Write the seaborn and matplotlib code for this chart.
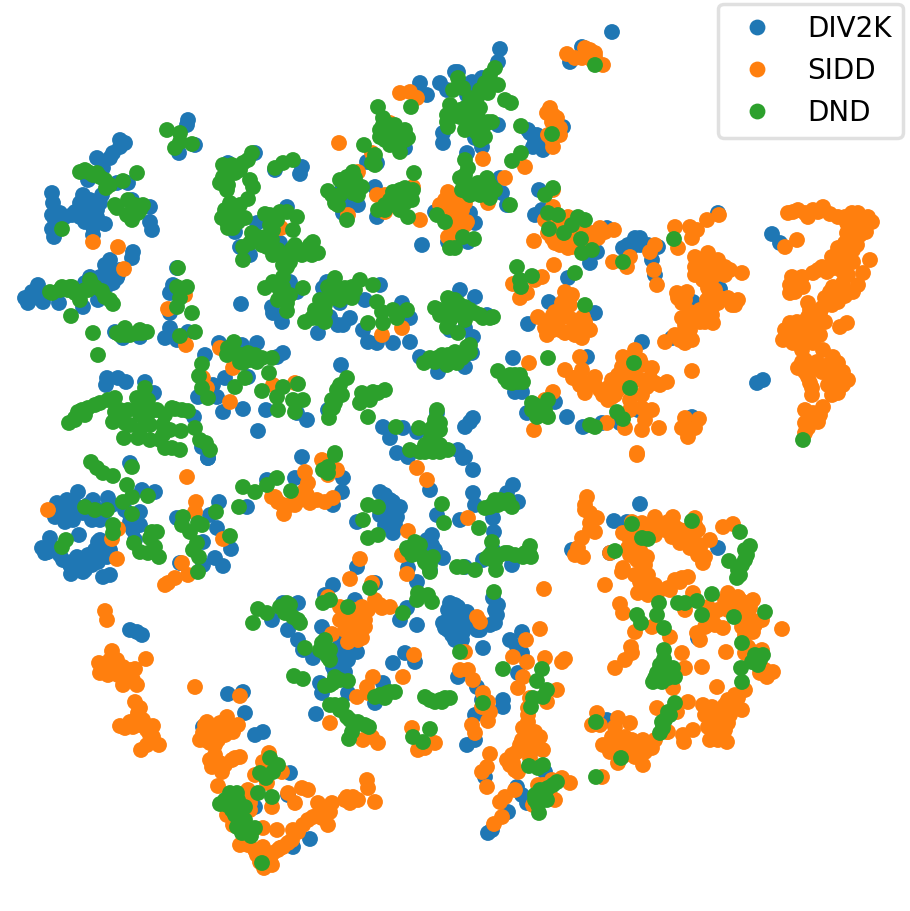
import pandas as pd
import matplotlib
matplotlib.use('Agg')
import matplotlib.pyplot as plt
import seaborn as sns

# t-SNE embedding, as (x, y) per dataset
div2k = [
    (125,143),(113,153),(120,147),(97,158),(103,168),(52,193),(53,203),(55,213),(65,217),(52,229),(54,237),(58,227),
    (83,195),(80,203),(80,217),(88,210),(97,210),(102,195),(100,203),(105,224),(93,227),(93,235),
    (128,183),(117,183),(88,180),(132,200),(150,207),(150,222),(152,230),
    (133,252),(132,258),(110,260),(107,273),(113,283),(90,277),(100,277),(38,285),(32,292),(28,303),(43,302),(59,303),(83,307),(98,300),(117,278),(37,295),
    (188,120),(187,125),(195,145),(179,153),(177,268),(173,285),(170,293),(170,313),(241,304),
    (170,328),(165,338),(177,340),(188,332),(115,332),(123,338),(140,337),
    (107,378),(106,385),(118,378),(126,382),(145,382),(154,393),
    (198,397),(213,385),(217,397),(223,412),(243,409),(225,378),(205,355),(219,343),(242,345),(257,343),(283,353),(277,357),(248,377),
    (266,410),(258,431),(307,420),(297,413),(328,410),(194,417),(202,447),(208,458),(341,365),
    (228,163),(255,153),(302,167),(300,174),(275,170),(287,207),(257,223),(235,232),(240,247),(250,255),(280,243),(290,282),(297,292),(272,307),(282,322),(273,313),
    (327,282),(323,288),(340,303),(365,300),(380,285),(318,333),(330,317),(338,325),(343,325),(350,318),(363,330),(368,342),(377,343),(393,343),(410,342),(420,357),(438,372),(402,303),(410,318),(450,330),
    (342,190),(347,205),(358,205),(343,213),(375,187),(377,217),(367,162),(377,163),(422,245),(435,212),(448,242),
    (405,148),(420,83),(427,95),(440,83),(447,90),(443,143),(443,133),(455,72),
    (383,427),(390,438),(403,428),(417,432),(397,453),(408,457),(437,413),
    (612,32),(500,49),(498,62),(582,47),(570,62),(458,72),(472,82),(467,95),(482,78),(498,125),(530,133),(533,147),(543,150),(563,127),(467,153),(482,147),(475,138),(500,178),(502,193),(507,205),(539,190),(535,215),(542,210),(470,213),(475,223),(468,242),
    (607,228),(623,248),(640,238),(632,247),(658,247),(652,260),(655,275),(590,263),(597,252),(718,213),(772,234),(780,243),(720,289),(693,302),(549,302),(568,278),(595,313),(528,324),(642,342),(672,338),(513,358),(587,357),(515,392),(522,392),(555,402),(527,413),(567,417),(583,427),(602,423),(620,423),(638,410),(692,417),(763,380),(757,383),(473,418),(465,427),(470,422),(465,328),(473,337),(465,367),(472,353),(460,290),(475,297),(487,315),(458,450),(465,457),
    (130,463),(208,458),(302,457),
    (57,503),(78,492),(55,517),(70,512),(83,513),(67,500),(93,500),(108,498),(100,520),(140,512),(142,490),(155,492),(133,530),(79,535),(50,538),(42,548),(48,552),(98,542),(100,553),(63,560),(77,557),(85,562),(71,574),(83,572),(103,577),(110,575),(107,557),
    (177,518),(219,502),(210,515),(217,528),(203,542),(231,549),(215,558),(223,566),(203,565),(180,563),
    (247,507),(267,480),(295,478),(343,478),(342,492),(333,505),(380,492),(393,502),(400,507),(388,513),(357,522),(397,517),(393,533),(430,490),(437,515),(432,535),(427,540),(443,558),(408,568),(357,567),(430,570),(417,582),
    (333,585),(325,595),(375,583),(355,600),(298,603),(283,603),(272,620),(288,630),(298,640),(303,650),(313,658),(322,627),(407,608),(400,620),(417,625),(448,620),(443,623),(450,603),(448,630),(337,653),(347,650),(357,652),(343,667),(333,667),(320,683),(322,693),(348,693),(375,703),(383,683),(393,663),(405,653),(415,662),(316,714),
    (130,630),(142,635),(137,632),(228,694),(243,692),(245,713),(203,727),(255,735),(263,732),(290,773),(288,795),(255,807),(310,839),(293,847),
    (463,458),(473,470),(513,485),(507,493),(473,493),(475,505),(460,520),(493,518),(518,502),(494,532),(493,550),(483,560),(465,567),(512,565),(493,598),(498,605),(497,615),(495,623),(477,630),(458,607),(460,627),(462,640),(483,648),(510,640),(522,632),(517,647),(522,653),(518,673),(458,677),(477,687),(503,700),(503,707),(482,700),(475,715),(475,740),(467,745),(485,777),(517,787),(522,795),(527,803),(508,812),(488,833),(492,830),(532,750),(545,772),
    (572,550),(610,553),(614,521),(627,522),(640,504),(718,548),(698,638),(607,720),(450,610),(455,625),(460,615),(452,635),
    (62,510),(75,505),(88,505),(100,510),(60,505),(73,520),(65,522),(92,520),(105,512),(112,505),(125,510),(130,515),(135,520),(140,525),(75,560),(88,555),(92,565),(98,562),(70,565),(85,570),(100,540),(95,550),(105,545),(110,550),(60,555),(50,545),(45,553),(135,540),(130,522),
    (55,220),(60,213),(52,215),(85,200),(85,215),(90,200),(92,222),(97,217),(85,222),(75,212),(72,215),
    (105,265),(112,270),(118,275),(108,285),(95,282),(85,283),(100,290),(40,295),(33,298),(25,298),(120,270),(120,140),(110,158),
    (448,610),(455,605),(445,628),(453,618),(457,632),(465,620),(470,625),(455,640),(463,632),(467,612),
    (345,640),(340,645),(342,655),(348,660),(352,645),(340,660),(335,672),(345,672),(350,640),(355,640),
    (395,520),(390,500),(385,495),(395,510),(385,525),(380,515),(395,525),(392,515),
    (430,560),(435,550),(425,545),(432,545),(535,140),(528,130),(540,145),(537,135),
    (480,630),(490,625),(480,625),(495,610),(470,85),(478,90),(465,85),(640,245),(628,245),(635,238),(648,245),
]
sidd = [
    (788,213),(798,210),(813,210),(823,207),(808,217),(838,217),(852,213),(868,217),(858,213),(847,223),(862,227),(847,233),(855,240),(853,250),(838,248),(845,263),(870,260),(863,273),(822,267),(813,273),(832,257),(797,240),(785,247),(792,277),(802,277),(790,293),(803,287),(808,303),(833,287),(843,283),(858,285),(825,298),(838,302),(820,313),(808,317),(790,323),(798,330),(813,330),(788,337),(783,340),(793,343),(808,338),(820,335),(840,327),(847,323),(802,350),(802,362),(798,368),(808,377),(817,362),(823,350),(833,357),(838,363),(843,372),(827,373),(837,383),(832,395),(810,383),(812,395),(805,410),(813,413),(823,407),(818,422),(805,423),(805,433),
    (675,227),(690,227),(697,230),(707,220),(719,215),(692,238),(678,248),(695,257),(708,253),(718,260),(725,267),(695,267),(708,267),(725,275),(695,275),(713,277),(742,273),(708,288),(677,293),(687,292),(682,303),(738,300),(732,305),(718,303),(707,300),(707,313),(713,323),(690,312),(682,318),(700,322),(690,330),(683,333),(685,343),(665,342),
    (550,108),(547,113),(557,118),(552,122),(560,128),(548,135),(553,147),(525,167),(483,159),(505,178),(488,203),
    (567,54),(585,48),(582,58),(595,53),(603,65),(592,60),(553,190),(553,207),
    (545,220),(548,233),(555,243),(568,217),(572,247),(565,237),(583,233),(592,233),(600,228),(614,230),(534,241),(554,265),(613,262),(627,267),(630,257),(650,252),(655,245),(654,270),(657,285),
    (542,277),(513,284),(535,280),(527,293),(520,298),(565,292),(572,295),(562,303),(538,317),(553,315),(568,317),(583,317),(547,335),(565,333),(582,338),(587,328),(555,325),(575,327),
    (580,357),(529,363),(565,370),(573,378),(582,370),(595,377),(587,383),(585,393),(607,393),(612,380),(623,357),(635,350),(622,367),(628,377),(652,368),(647,387),(667,382),(655,383),(612,397),(618,390),(692,371),(553,392),(545,400),
    (534,430),(607,423),(625,428),(630,410),(642,408),(652,410),(642,430),(645,420),(659,428),(685,418),(699,419),(682,428),(695,428),(688,437),(637,453),
    (458,217),(465,203),(455,200),(460,227),(467,222),(447,200),(455,215),(462,210),(450,225),(465,225),(460,235),
    (339,143),(410,92),(400,93),(417,98),(390,123),(372,153),(377,195),(385,195),(385,212),(358,172),(348,215),(420,220),(413,187),(448,192),(447,212),(452,223),(448,237),(455,197),
    (281,228),(93,242),(118,247),(124,269),(168,309),(185,295),(186,345),(220,348),(233,368),(207,388),(203,378),(230,402),(273,385),(295,383),(382,335),(402,328),
    (48,510),(187,477),(118,529),(112,539),(117,559),(196,502),(195,512),(223,539),(182,563),(188,575),(168,583),(165,585),(175,578),
    (305,472),(308,483),(307,495),(322,460),(337,470),(328,475),(272,497),(283,505),(284,514),(295,505),(300,500),(317,500),(325,502),(333,498),
    (408,531),(417,468),(427,480),(402,555),(407,574),(360,559),(350,579),(372,583),(328,597),
    (340,607),(348,620),(362,607),(375,600),(390,607),(382,608),(358,620),(365,627),(348,642),(362,638),(355,632),(332,634),(340,620),
    (414,655),(403,677),(373,677),(367,687),(357,697),(368,693),(240,696),(195,687),
    (105,611),(107,620),(112,651),(99,663),(146,659),(100,673),(108,675),(117,660),(123,667),(135,669),(118,675),(128,677),(123,685),(137,685),
    (135,702),(138,713),(143,720),(120,726),(133,727),(153,726),(147,730),(153,737),(159,745),(141,750),
    (207,722),(227,717),(220,723),(238,725),(233,732),(203,733),(200,740),(210,743),(218,740),(223,730),
    (210,760),(212,767),(220,763),(232,760),(240,757),(222,772),(218,786),(269,753),(263,762),(282,772),(255,775),(267,783),
    (248,790),(250,803),(227,815),(233,825),(263,828),(277,830),(272,807),
    (248,845),(257,855),(263,847),(273,853),(272,865),(264,868),(283,847),(292,840),(293,830),(303,825),(313,817),(328,825),(325,813),(318,803),(332,803),
    (288,793),(302,788),(308,790),(295,803),(347,797),(350,803),(358,800),(367,780),(368,788),(375,802),
    (363,740),(372,737),(378,743),(330,723),(412,728),(418,750),(435,743),(425,748),
    (468,518),(477,617),(480,622),(540,629),(544,589),(637,455),(465,652),(460,670),(468,670),(473,680),
    (483,693),(488,702),(482,707),(490,712),(488,721),(472,725),(475,733),
    (526,640),(513,657),(527,662),(518,688),(523,677),(545,658),(562,662),(565,659),(557,690),(547,702),
    (530,698),(528,708),(528,722),(523,728),(535,732),(540,737),(522,740),(535,743),(543,750),(517,752),(507,760),(513,763),(518,772),(490,754),(487,767),(482,772),(487,787),(530,758),
    (570,783),(562,778),(552,780),(538,785),(555,800),(533,805),(515,790),(505,797),(500,802),(502,817),(494,824),
    (587,497),(585,505),(590,513),(597,518),(590,523),(595,532),(582,538),(578,548),(583,557),(575,555),
    (610,553),(632,522),(642,523),(655,517),(668,522),(673,517),(672,537),(690,533),(695,518),(698,530),(685,540),(690,548),(700,545),(710,540),(703,563),(705,557),(723,527),(733,524),
    (623,533),(628,548),(637,560),(647,557),(623,568),(642,570),(622,572),(605,585),(640,582),(655,585),(638,593),(668,588),(682,578),(688,577),
    (620,604),(623,613),(635,632),(652,627),(670,637),(631,647),(632,653),(625,660),(615,668),
    (693,593),(685,610),(708,607),(697,633),(705,627),(712,617),(723,628),(718,610),(728,593),(738,597),(748,603),(753,600),(742,610),(752,620),(762,620),(753,632),(742,627),(782,629),
    (726,652),(702,667),(682,653),(685,668),(668,670),(673,688),(717,687),(745,653),(762,650),(760,673),(767,677),(773,672),(748,647),
    (745,690),(738,698),(742,710),(728,700),(723,710),(712,707),(703,705),(708,713),(728,723),(718,723),(708,727),(727,742),(710,740),(720,733),(688,702),(657,708),(677,712),
    (693,730),(683,735),(684,742),(668,732),
    (597,713),(592,725),(618,718),(630,723),(615,727),(603,745),(612,737),(625,737),(632,740),(610,752),(618,747),(618,763),(635,757),(643,740),(652,748),(655,740),(643,765),(645,752),(602,777),(667,732),
    (793,212),(805,213),(818,212),(830,214),(845,217),(862,218),(872,222),(855,225),(866,232),(858,232),(850,228),(860,235),(845,243),(857,245),(850,256),(840,258),(843,272),(853,262),(835,268),(827,272),(818,270),(848,275),(840,290),(853,292),(830,292),(845,296),(832,305),(822,308),(815,322),(825,322),(803,322),(797,322),(785,330),(790,330),(800,338),(813,343),
    (810,365),(805,372),(828,365),(840,375),(848,380),(833,372),(822,372),(828,385),(838,393),(843,385),(812,388),(808,372),(805,360),(815,420),(810,415),(820,415),(808,428),(790,285),(798,285),(795,292),(810,310),(795,335),(800,330),
    (700,260),(705,262),(712,262),(700,272),(715,270),(720,272),(730,270),(703,280),(710,283),(715,290),(710,295),(720,298),(728,298),(735,305),(712,308),(700,310),(695,315),(705,322),(712,315),(685,325),(678,298),(685,300),(675,335),(692,320),(692,340),(680,340),
    (550,320),(558,322),(573,320),(560,330),(570,332),(578,322),(590,330),(585,322),(575,335),(555,312),(565,300),(570,305),(560,315),(545,328),(553,330),
    (552,238),(560,245),(570,240),(578,245),(590,240),(598,238),(605,232),(562,240),(572,232),(565,228),(555,225),(575,240),(568,248),(580,240),
    (575,378),(580,385),(595,385),(603,395),(608,388),(620,385),(618,375),(625,365),(628,360),(640,360),(642,365),(630,368),(635,375),(625,385),(615,395),(608,400),(600,390),(640,380),(650,378),(660,385),(642,395),(630,400),(553,115),(555,125),(552,140),(560,135),
    (640,530),(650,525),(662,525),(675,527),(680,530),(688,530),(695,525),(680,543),(693,540),(655,535),(640,540),(635,545),(630,540),(630,555),(640,550),(628,535),(635,575),(645,565),(648,575),(645,585),(648,595),(660,590),(670,590),(675,580),(680,582),
    (725,600),(735,605),(728,610),(740,600),(750,608),(747,615),(735,603),(745,625),(755,625),(745,635),(710,615),(700,640),(708,625),(715,625),(750,650),(755,660),(760,665),(765,670),
    (735,695),(725,705),(715,715),(722,710),(735,705),(730,715),(720,725),(712,730),(718,740),(725,730),(705,715),
    (600,725),(610,745),(620,745),(625,750),(630,748),(640,745),(650,745),(635,745),(615,750),(625,755),(640,750),(585,510),(592,520),(590,530),(700,548),(698,555),(672,530),(665,530),
    (105,665),(115,668),(125,672),(130,670),(110,660),(105,670),(125,680),(133,680),(137,718),(140,708),(145,725),(150,735),(125,728),(130,722),(140,725),(147,745),
    (205,725),(210,730),(215,728),(225,725),(230,725),(205,740),(212,735),(225,735),(215,745),(215,755),(225,765),(235,758),
    (240,845),(255,850),(265,860),(260,862),(270,860),(280,848),(288,843),(298,832),(308,820),(320,812),(322,818),(330,812),(278,850),(345,800),(353,797),(250,795),(250,810),
    (345,610),(350,625),(355,610),(368,610),(380,605),(350,635),(358,640),(365,620),(352,628),(360,630),(345,630),
    (530,735),(525,740),(520,745),(528,735),(530,750),(512,755),(510,765),(515,770),(525,728),(535,740),(528,715),(550,795),(543,785),
    (300,495),(305,490),(310,503),(290,505),(278,502),(275,497),(445,200),(440,205),(452,210),(458,228),(445,215),(455,225),(595,57),(590,50),(575,58),
]
dnd = [
    (378,107),(383,118),(380,137),(388,133),(397,135),(405,130),(408,138),(390,145),(400,152),(364,145),(372,163),(375,165),(411,107),(447,122),(448,127),(453,90),(414,173),
    (328,191),(335,203),(347,177),(353,172),(345,187),(362,187),(353,193),(347,220),
    (378,210),(385,205),(397,197),(405,188),(413,190),(405,203),(408,217),(437,215),(445,222),(450,248),
    (167,130),(180,133),(180,142),(175,148),(192,144),
    (80,172),(88,172),(97,173),(105,180),(106,188),(123,181),(137,173),(115,205),(117,208),(133,207),(143,205),(138,213),(132,220),(62,229),
    (223,165),(252,153),(243,163),(235,173),(223,177),(220,183),(227,190),(250,180),(253,187),(248,199),
    (225,210),(230,203),(237,213),(245,218),(227,222),(233,228),
    (265,214),(277,220),(287,212),(297,217),(293,230),(252,233),(243,247),(265,237),(267,247),(273,255),(243,260),
    (275,168),(283,163),(293,160),(292,249),(307,250),(313,242),(318,253),(302,255),
    (287,267),(283,277),(273,282),(265,288),(283,287),(278,300),(287,303),(287,311),(303,288),
    (335,278),(328,287),(320,300),(315,310),(305,322),(325,322),(317,318),(337,290),
    (360,280),(352,287),(352,298),(373,285),(377,302),(382,312),(393,310),(407,310),(397,318),(368,323),(383,323),
    (435,308),(443,313),(448,298),(447,327),(424,363),(437,358),(448,355),(447,365),
    (178,268),(177,287),(187,287),(180,298),(177,307),(192,313),(71,316),(93,333),(98,355),
    (117,333),(125,328),(137,333),(147,332),(180,336),(195,332),
    (52,293),(62,287),(72,287),(80,292),(90,280),(88,290),(102,291),(113,304),(80,300),
    (234,342),(227,355),(235,353),(248,353),(243,363),(257,362),(272,358),(269,373),(202,364),(199,376),(202,388),(208,398),(235,387),(245,378),
    (262,391),(283,387),(277,397),(278,410),(298,384),(293,400),(303,400),(295,412),
    (347,378),(337,390),(332,400),(330,410),(329,418),(362,393),(373,392),(385,390),(360,403),(368,417),
    (396,427),(419,428),(437,410),(433,427),(440,423),(435,440),(420,452),(433,452),(448,450),
    (69,423),(78,412),(88,408),(100,403),(115,398),(115,412),(113,422),(125,423),(124,438),(137,398),(145,388),(148,400),(145,410),(145,422),(157,410),(172,408),(182,410),(188,411),(163,425),(181,431),(195,428),(163,435),(138,438),(150,440),(165,448),(180,450),(206,443),(335,453),
    (495,68),(490,75),(595,65),(458,78),(463,88),(485,83),(498,85),(488,93),(477,98),(505,100),(511,103),(470,110),(460,117),(478,117),(488,122),(477,133),(485,137),(521,126),(552,134),
    (465,160),(468,168),(512,161),(521,153),(460,178),(467,192),(478,183),(487,178),(487,192),(490,198),(510,205),(553,188),(545,195),
    (548,213),(558,215),(549,229),(572,225),(578,217),(585,220),(564,233),(581,239),(582,253),(592,250),
    (463,237),(474,239),(455,248),(623,262),(674,239),(517,267),(520,280),(532,276),(521,287),(575,273),(585,305),(548,358),(634,363),(630,388),
    (498,371),(505,378),(512,383),(523,382),(515,375),(532,403),(538,408),(548,400),(537,417),(548,417),
    (617,412),(623,419),(590,425),(595,427),(803,440),
    (458,303),(465,307),(475,313),(493,317),(483,318),(465,320),(458,333),(467,347),(470,352),(462,358),(457,363),
    (91,462),(97,468),(103,473),(113,476),(132,467),(127,485),(132,497),(123,502),(148,496),(85,507),(95,510),(107,510),(132,514),(113,525),(113,533),(66,540),(62,547),
    (134,543),(140,552),(152,532),(157,532),(150,538),(155,547),(159,557),(148,553),
    (183,517),(182,525),(198,523),(190,532),(202,525),(216,512),(230,536),(197,543),(193,550),(199,557),(198,572),
    (243,487),(255,492),(267,485),(277,478),(239,507),(291,491),(328,467),(323,470),(335,455),(328,473),
    (368,505),(378,507),(363,520),(378,535),(368,538),(442,504),(444,523),
    (407,548),(415,542),(412,555),(423,557),(433,557),(428,565),(430,572),
    (258,609),(267,613),(253,623),(287,603),(285,613),(293,617),(300,623),
    (323,603),(330,600),(348,607),(370,588),(403,613),(417,600),(418,593),(428,595),(432,602),
    (305,648),(322,643),(325,653),(330,660),(294,676),(303,679),(348,681),(335,677),(325,686),(333,683),
    (380,695),(387,693),(395,692),(430,700),(442,702),(450,698),(457,567),
    (330,705),(342,705),(347,717),(358,722),(369,727),(352,732),(349,739),(413,737),(430,729),(423,742),
    (270,758),(278,765),(273,772),(260,773),(266,778),(230,793),(237,793),(220,804),(227,805),(245,807),(258,793),(272,797),
    (240,817),(245,820),(237,827),(247,827),(242,833),(251,836),(255,828),(262,863),
    (490,507),(498,505),(508,500),(512,507),(479,528),(492,542),(530,546),(523,557),(531,557),(508,553),(487,558),(495,562),(496,570),(475,570),(463,567),(494,592),
    (460,652),(503,669),(542,669),(537,681),(547,690),(543,697),(533,698),(531,707),(483,703),
    (529,766),(543,765),(538,768),(557,782),(548,788),(543,793),(537,797),(547,800),(538,805),(539,813),
    (596,777),(596,722),(621,758),(632,524),(642,538),(648,539),(692,521),(740,532),(750,546),(747,555),(729,561),(742,565),(737,578),(615,551),
    (712,594),(697,601),(685,603),(678,603),(702,615),(659,603),(657,615),(637,615),(641,623),(664,628),(734,617),(765,612),(742,643),
    (757,660),(763,655),(758,657),(741,668),(742,682),(664,650),(664,659),(673,668),(657,673),(653,682),(662,682),(675,677),
    (675,703),(668,712),(662,722),(660,733),
    (60,290),(68,290),(85,290),(95,287),(50,292),(75,293),(105,297),(110,300),(70,287),
    (75,418),(82,410),(95,405),(108,400),(120,410),(128,410),(122,418),(130,425),(140,405),(140,415),(150,412),(150,425),(140,430),(165,415),(175,409),(160,440),(172,448),(170,430),(210,450),(200,440),(75,420),(85,415),
    (85,170),(93,175),(100,177),(110,185),(128,200),(140,210),(127,215),(135,205),
    (225,180),(232,165),(240,170),(228,185),(248,160),(230,210),(222,218),(238,222),(228,215),(240,205),(232,218),(228,228),
    (270,215),(280,212),(258,237),(272,240),(258,240),(262,245),(278,250),(250,243),(270,225),(273,230),
    (295,245),(300,250),(310,245),(312,255),(285,258),(283,265),(290,262),(280,290),(275,285),(285,295),(290,295),
    (345,180),(350,185),(340,180),(355,178),(358,195),(340,195),(332,195),(338,205),
    (390,200),(400,190),(395,205),(400,210),(410,195),(405,195),(393,192),(412,200),(385,210),
    (383,125),(390,125),(395,140),(385,140),(400,143),(375,155),(380,130),(405,140),(395,125),
    (447,115),(450,118),(455,112),(450,105),(470,98),(480,90),(473,102),(465,108),(480,108),(470,118),(475,128),(483,128),(492,122),(465,130),(480,140),(460,110),
    (465,175),(470,185),(462,190),(475,190),(480,195),(483,185),(470,195),(490,185),(495,190),
    (330,295),(325,305),(335,298),(325,312),(318,315),(312,318),(322,315),(345,288),(340,300),(355,290),
    (140,330),(130,335),(120,335),(125,335),(142,333),
    (240,355),(232,350),(240,362),(250,360),(255,355),(228,348),(262,358),
    (440,310),(455,300),(450,310),(440,315),(460,310),(470,310),(480,315),(490,318),(450,320),(465,312),(455,315),
    (430,358),(442,355),(455,352),(470,345),(465,355),(435,362),(455,362),
    (333,408),(340,385),(342,395),(335,403),(365,398),(370,400),(378,393),
    (430,430),(435,420),(440,430),(430,440),(425,445),(440,445),(410,450),(425,452),(440,452),
    (492,505),(500,500),(485,508),(495,500),(505,503),(490,555),(500,555),(505,553),(515,555),(525,553),(530,555),
    (510,375),(518,382),(508,382),(520,375),(540,410),(535,405),(540,415),(545,410),(532,410),
    (325,640),(320,650),(330,650),(328,657),(335,680),(330,685),(340,680),
    (245,825),(240,822),(232,810),(240,810),(248,830),(243,825),(250,830),(235,815),(225,800),(238,800),(230,805),
    (535,795),(540,790),(545,795),(540,800),(535,800),(545,790),(553,785),
    (660,665),(665,665),(670,675),(660,678),(655,678),(668,678),(755,655),(760,660),(752,662),(758,665),
    (665,720),(663,728),(670,715),(745,560),(745,550),(738,570),(740,575),
    (350,720),(365,725),(340,710),(335,705),(355,725),(408,550),(415,550),(425,562),(430,565),(420,545),
    (390,692),(385,698),(375,697),(435,702),(445,698),(440,700),(425,697),(285,610),(290,605),(298,620),(280,607),
]
labels = ['DIV2K', 'SIDD', 'DND']
colors = ['#1f77b4', '#ff7f0e', '#2ca02c']

rows = []
for name, pts in zip(labels, [div2k, sidd, dnd]):
    for x, y in pts:
        rows.append({'x': x, 'y': y, 'dataset': name})
df = pd.DataFrame(rows)

fig = plt.figure(figsize=(9.1, 9.11), dpi=100)
ax = fig.add_axes([0, 0, 1, 1])
sns.scatterplot(data=df, x='x', y='y', hue='dataset', hue_order=labels, palette=colors,
                s=130, linewidth=0, alpha=1, ax=ax)
ax.set_xlim(0, 910)
ax.set_ylim(911, 0)
ax.set_axis_off()

leg = ax.legend(loc='upper right', bbox_to_anchor=(0.992, 0.996), borderaxespad=0,
                fontsize=20, frameon=True)
leg.get_frame().set_linewidth(2.5)
leg.get_frame().set_edgecolor('0.85')

fig.savefig('out.png', dpi=100)
